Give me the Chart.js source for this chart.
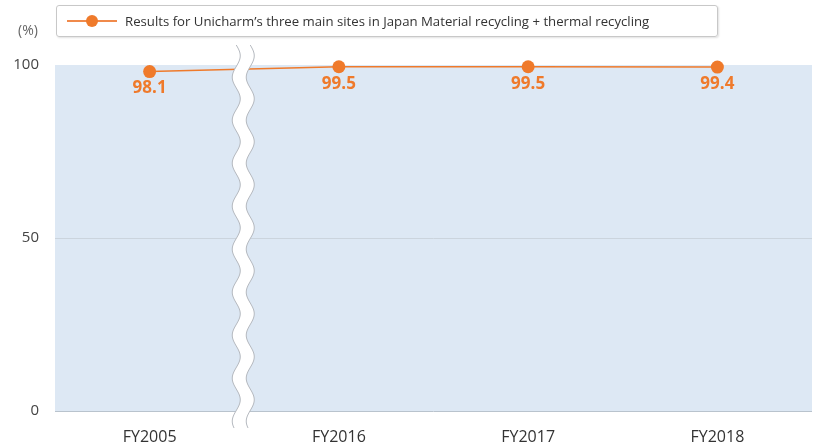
<!DOCTYPE html>
<html>
<head>
<meta charset="utf-8">
<script src="https://cdn.jsdelivr.net/npm/chart.js@4.4.0/dist/chart.umd.min.js"></script>
<style>
  html, body { margin: 0; padding: 0; background: #fff; }
  #wrap { position: relative; width: 813px; height: 447px; }
  #legend {
    position: absolute; left: 56px; top: 5px; width: 662px; height: 32px;
    border: 1px solid #c8c8c8; border-radius: 3px; box-sizing: border-box;
    box-shadow: 1px 1px 2px rgba(0,0,0,0.12);
    font-family: "Open Sans", "Noto Sans", sans-serif; font-size: 13.2px; color: #333;
    display: flex; align-items: center;
  }
  #legend .sym { position: relative; width: 50px; height: 12px; margin-left: 10px; margin-right: 8px; }
  #legend .sym::before { content: ""; position: absolute; left: 0; right: 0; top: 5px; height: 2px; background: #f08a4b; }
  #legend .sym::after { content: ""; position: absolute; left: 19px; top: 0; width: 12px; height: 12px; border-radius: 50%; background: #ef7a2b; }
</style>
</head>
<body>
<div id="wrap">
  <canvas id="myChart" width="813" height="447"></canvas>
  <div id="legend"><span class="sym"></span>Results for Unicharm’s three main sites in Japan Material recycling + thermal recycling</div>
</div>
<script>
// chart data
const years = ["FY2005", "FY2016", "FY2017", "FY2018"];
const recyclingRate = [98.1, 99.5, 99.5, 99.4];
const yTicks = [0, 50, 100];

const orange = "#ef7a2b";

// plot background + break mark + labels
const decorations = {
    id: "decorations",
    beforeDraw(chart) {
        const { ctx, chartArea } = chart;
        ctx.save();
        ctx.fillStyle = "#dde8f4";
        ctx.fillRect(chartArea.left, chartArea.top, chartArea.right - chartArea.left, chartArea.bottom - chartArea.top);
        ctx.restore();
    },
    afterDatasetsDraw(chart) {
        const { ctx, chartArea, scales } = chart;
        const x = (scales.x.getPixelForValue(0) + scales.x.getPixelForValue(1)) / 2 - 1;
        const top = chartArea.top - 20, bottom = chartArea.bottom + 17;
        const half = 7, amp = 4, period = 43;
        const waveX = y => x + amp * Math.sin((y - top) / period * 2 * Math.PI);

        ctx.save();
        ctx.beginPath();
        for (let y = top; y <= bottom; y += 1) {
            const wx = waveX(y) - half;
            if (y === top) ctx.moveTo(wx + 3, y); else ctx.lineTo(wx, y);
        }
        for (let y = bottom; y >= top; y -= 1) {
            ctx.lineTo(waveX(y) + half, y);
        }
        ctx.closePath();
        ctx.fillStyle = "#ffffff";
        ctx.fill();

        ctx.strokeStyle = "#b5b9bf";
        ctx.lineWidth = 1;
        [-half, half].forEach(off => {
            ctx.beginPath();
            for (let y = top; y <= bottom; y += 1) {
                const wx = waveX(y) + off;
                if (y === top) ctx.moveTo(wx, y); else ctx.lineTo(wx, y);
            }
            ctx.stroke();
        });
        ctx.restore();

        // value labels under points
        const meta = chart.getDatasetMeta(0);
        ctx.save();
        ctx.font = "bold 17px 'Open Sans', 'Noto Sans', sans-serif";
        ctx.fillStyle = orange;
        ctx.textAlign = "center";
        ctx.textBaseline = "middle";
        meta.data.forEach((pt, i) => {
            ctx.fillText(recyclingRate[i].toFixed(1), pt.x, pt.y + 17);
        });

        // unit label
        ctx.font = "14px 'Open Sans', 'Noto Sans', sans-serif";
        ctx.fillStyle = "#666";
        ctx.textAlign = "center";
        ctx.fillText("(%)", 28, 31);
        ctx.restore();
    }
};

const ctx = document.getElementById("myChart").getContext("2d");
new Chart(ctx, {
    type: "line",
    data: {
        labels: years,
        datasets: [{
            label: "Results for Unicharm’s three main sites in Japan Material recycling + thermal recycling",
            data: recyclingRate,
            borderColor: orange,
            backgroundColor: orange,
            borderWidth: 1.5,
            pointRadius: 6.5,
            pointBackgroundColor: orange,
            pointBorderWidth: 0,
            tension: 0,
            clip: false
        }]
    },
    options: {
        responsive: false,
        animation: false,
        layout: { autoPadding: false, padding: { top: 65, right: 1, left: 0, bottom: 0 } },
        plugins: { legend: { display: false }, tooltip: { enabled: false } },
        scales: {
            x: {
                offset: true,
                grid: { display: false },
                border: { display: false },
                ticks: {
                    color: "#333",
                    font: { family: "'Open Sans', 'Noto Sans', sans-serif", size: 16 },
                    padding: 9
                },
                afterFit(axis) {
                    axis.height = 36;
                    axis.paddingLeft = 0;
                    axis.paddingRight = 0;
                }
            },
            y: {
                min: 0,
                max: 100,
                afterBuildTicks(axis) { axis.ticks = yTicks.map(v => ({ value: v })); },
                grid: {
                    color: ctx => ctx.tick && ctx.tick.value === 0 ? "#b9c3cd" : (ctx.tick && ctx.tick.value === 100 ? "rgba(0,0,0,0)" : "#cbd4dd"),
                    lineWidth: 1,
                    drawTicks: false
                },
                border: { display: false },
                ticks: {
                    color: "#444",
                    font: { family: "'Open Sans', 'Noto Sans', sans-serif", size: 15 },
                    padding: 16
                },
                afterFit(axis) {
                    axis.width = 55;
                    axis.paddingTop = 0;
                    axis.paddingBottom = 0;
                }
            }
        }
    },
    plugins: [decorations]
});
</script>
</body>
</html>
